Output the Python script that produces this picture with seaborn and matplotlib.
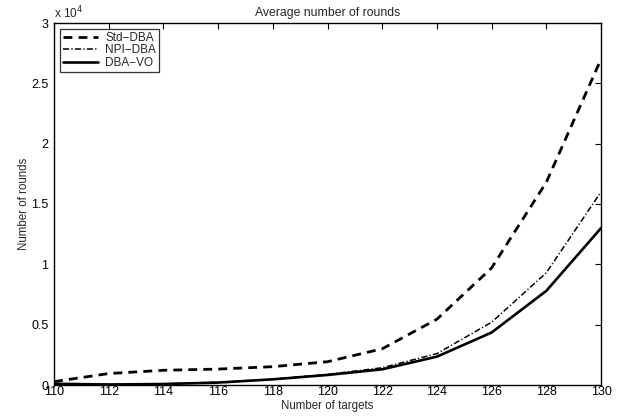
import matplotlib
matplotlib.use("Agg")
import matplotlib.pyplot as plt
import matplotlib.ticker as mticker
import seaborn as sns
import pandas as pd

targets = [110, 112, 114, 116, 118, 120, 122, 124, 126, 128, 130]
std_dba = [280, 950, 1220, 1320, 1520, 1930, 3000, 5450, 9700, 16800, 27000]
npi_dba = [120, 60, 100, 230, 480, 880, 1430, 2600, 5200, 9300, 16000]
dba_vo = [100, 40, 80, 200, 470, 830, 1300, 2350, 4350, 7800, 13000]
series_names = ["Std\u2212DBA", "NPI\u2212DBA", "DBA\u2212VO"]
y_ticks = [0, 5000, 10000, 15000, 20000, 25000, 30000]

sns.set_theme(style="white")
plt.rcParams["font.family"] = ["Liberation Sans", "DejaVu Sans"]
plt.rcParams["font.size"] = 8

fig = plt.figure(figsize=(6.23, 4.17), dpi=100)
ax = fig.add_axes([54 / 623, 32 / 417, 547 / 623, 362 / 417])

styles = [
    dict(linestyle=(0, (3.2, 2.2)), linewidth=2.0),
    dict(linestyle=(0, (4, 1.5, 0.8, 1.5)), linewidth=1.1),
    dict(linestyle="-", linewidth=1.9),
]
for name, vals, st in zip(series_names, [std_dba, npi_dba, dba_vo], styles):
    df = pd.DataFrame({"targets": targets, "rounds": vals})
    sns.lineplot(data=df, x="targets", y="rounds", ax=ax, color="black",
                 label=name, **st)

ax.set_xlim(110, 130)
ax.set_ylim(0, 30000)
ax.set_xticks(range(110, 131, 2))
ax.set_yticks(y_ticks)
ax.yaxis.set_major_formatter(mticker.FuncFormatter(lambda v, p: f"{v / 1e4:g}"))
ax.tick_params(direction="in", length=4, width=0.8, top=True, right=True,
               labelsize=9, colors="black")
ax.tick_params(axis="x", pad=1)
ax.tick_params(axis="y", pad=4)
for s in ax.spines.values():
    s.set_color("black")
    s.set_linewidth(1.0)

ax.text(0.0, 1.004, "x 10$^4$", transform=ax.transAxes, fontsize=8.5,
        ha="left", va="bottom")
ax.set_title("Average number of rounds", fontsize=8.8, pad=5)
ax.set_xlabel("Number of targets", fontsize=8.3, labelpad=1)
ax.set_ylabel("Number of rounds", fontsize=8.3, labelpad=1)

leg = ax.legend(loc="upper left", fontsize=8.5, frameon=True, fancybox=False,
                edgecolor="black", handlelength=3.0, borderaxespad=0.5,
                labelspacing=0.05, borderpad=0.25, handletextpad=0.6)
leg.get_frame().set_linewidth(0.9)

fig.savefig("out.png", dpi=100, facecolor="white")
